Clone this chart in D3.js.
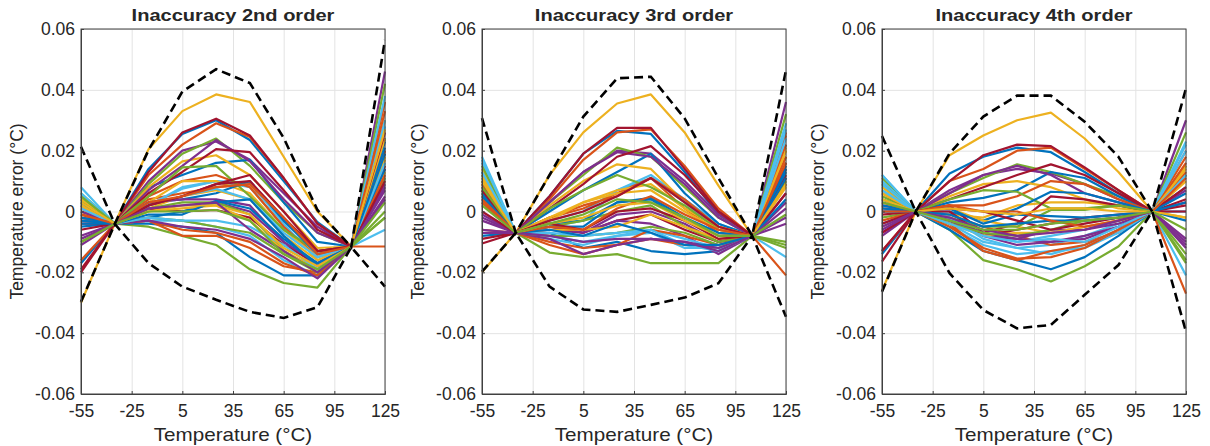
<!DOCTYPE html>
<html>
<head>
<meta charset="utf-8">
<script src="https://cdn.jsdelivr.net/npm/d3@7"></script>
<style>
  html, body { margin: 0; padding: 0; background: #fff; }
  text { font-family: "Liberation Sans", Arial, Helvetica, sans-serif; fill: #262626; }
</style>
</head>
<body>
<div id="app"></div>
<script>
const temps = [-55, -35, -15, 5, 25, 45, 65, 85, 105, 125]
const xTicks = [-55, -25, 5, 35, 65, 95, 125]
const xTickLabels = ['-55', '-25', '5', '35', '65', '95', '125']
const yTicks = [-0.06, -0.04, -0.02, 0, 0.02, 0.04, 0.06]
const yTickLabels = ['-0.06', '-0.04', '-0.02', '0', '0.02', '0.04', '0.06']
const titles = ['Inaccuracy 2nd order', 'Inaccuracy 3rd order', 'Inaccuracy 4th order']

// one row per sensor, values at temps (°C)
const err2nd = [
  [-0.017, -0.004, 0.014, 0.0255, 0.030, 0.0235, 0.010, -0.0035, -0.0115, 0.024],
  [-0.016, -0.004, 0.012, 0.022, 0.029, 0.0245, 0.011, -0.004, -0.0115, 0.036],
  [-0.030, -0.004, 0.0205, 0.033, 0.0385, 0.036, 0.018, 0.000, -0.0115, 0.030],
  [-0.011, -0.004, 0.010, 0.020, 0.023, 0.017, 0.006, -0.005, -0.0115, 0.046],
  [-0.010, -0.004, 0.009, 0.019, 0.024, 0.015, 0.003, -0.007, -0.0115, 0.042],
  [0.008, -0.004, 0.002, 0.0075, 0.010, 0.008, -0.005, -0.014, -0.0115, -0.006],
  [-0.019, -0.004, 0.013, 0.026, 0.0305, 0.025, 0.011, -0.004, -0.0115, 0.020],
  [-0.005, -0.004, 0.008, 0.012, 0.016, 0.017, 0.003, -0.010, -0.0115, 0.024],
  [-0.003, -0.004, 0.004, 0.006, 0.008, 0.009, -0.003, -0.013, -0.0115, -0.0115],
  [-0.001, -0.004, 0.008, 0.0165, 0.0185, 0.012, 0.000, -0.012, -0.0115, 0.017],
  [-0.002, -0.004, 0.007, 0.015, 0.0235, 0.0165, 0.004, -0.007, -0.0115, 0.008],
  [0.006, -0.004, -0.005, -0.008, -0.011, -0.019, -0.0235, -0.025, -0.0115, 0.000],
  [0.005, -0.004, 0.002, 0.008, 0.010, 0.0095, -0.004, -0.016, -0.0115, 0.028],
  [-0.020, -0.004, 0.006, 0.013, 0.0205, 0.0195, 0.007, -0.006, -0.0115, 0.014],
  [0.003, -0.004, -0.004, -0.005, -0.007, -0.015, -0.021, -0.021, -0.0115, 0.023],
  [-0.002, -0.004, 0.005, 0.010, 0.012, 0.008, -0.005, -0.015, -0.0115, 0.020],
  [0.000, -0.004, 0.003, 0.010, 0.010, 0.006, -0.006, -0.015, -0.0115, 0.013],
  [0.002, -0.004, 0.001, 0.000, 0.003, 0.000, -0.010, -0.018, -0.0115, 0.005],
  [0.004, -0.004, 0.005, 0.0145, 0.015, 0.005, -0.006, -0.013, -0.0115, 0.011],
  [0.006, -0.004, -0.003, -0.003, -0.005, -0.008, -0.016, -0.021, -0.0115, 0.038],
  [-0.004, -0.004, 0.001, 0.000, 0.0005, -0.002, -0.011, -0.017, -0.0115, 0.015],
  [-0.003, -0.004, 0.003, 0.004, 0.006, 0.010, -0.003, -0.014, -0.0115, 0.021],
  [0.001, -0.004, -0.003, -0.006, -0.007, -0.010, -0.017, -0.021, -0.0115, 0.019],
  [0.004, -0.004, 0.001, 0.005, 0.007, 0.004, -0.008, -0.016, -0.0115, 0.024],
  [-0.008, -0.004, 0.003, 0.004, 0.004, 0.002, -0.010, -0.017, -0.0115, 0.004],
  [0.005, -0.004, 0.001, 0.003, 0.003, -0.001, -0.013, -0.019, -0.0115, -0.002],
  [0.002, -0.004, 0.002, 0.005, 0.0075, 0.004, -0.007, -0.015, -0.0115, 0.030],
  [-0.001, -0.004, 0.002, 0.005, 0.009, 0.010, -0.002, -0.013, -0.0115, 0.026],
  [-0.002, -0.004, -0.002, 0.000, 0.003, 0.004, -0.008, -0.018, -0.0115, 0.014],
  [0.000, -0.004, -0.003, -0.008, -0.008, -0.012, -0.018, -0.020, -0.0115, 0.012],
  [0.002, -0.004, 0.000, 0.001, 0.002, -0.003, -0.013, -0.019, -0.0115, 0.018],
  [0.000, -0.004, -0.003, -0.005, -0.006, -0.009, -0.015, -0.022, -0.0115, 0.009],
  [0.003, -0.004, -0.002, -0.003, -0.005, -0.007, -0.014, -0.020, -0.0115, -0.002],
  [0.001, -0.004, -0.002, -0.003, -0.003, -0.005, -0.011, -0.019, -0.0115, 0.016],
  [-0.006, -0.004, 0.002, 0.005, 0.009, 0.012, 0.000, -0.013, -0.0115, 0.010],
  [-0.004, -0.004, -0.001, -0.001, 0.0035, 0.001, -0.009, -0.017, -0.0115, 0.019],
  [-0.001, -0.004, 0.003, 0.005, 0.008, 0.009, -0.002, -0.014, -0.0115, 0.033],
  [0.003, -0.004, 0.000, 0.002, 0.002, -0.001, -0.012, -0.018, -0.0115, 0.027],
  [-0.009, -0.004, 0.001, 0.002, 0.003, -0.006, -0.013, -0.020, -0.0115, 0.007],
  [-0.010, -0.004, 0.000, 0.000, 0.0005, -0.003, -0.014, -0.019, -0.0115, 0.003]
]
const upper2nd = [0.0213, -0.0041, 0.0202, 0.0394, 0.0468, 0.0422, 0.0242, 0.0005, -0.0117, 0.0564]
const lower2nd = [-0.0297, -0.0041, -0.0170, -0.0247, -0.0290, -0.0330, -0.0350, -0.0315, -0.0117, -0.0247]

const err3rd = [
  [0.013, -0.007, 0.005, 0.019, 0.0265, 0.0255, 0.013, -0.001, -0.008, 0.014],
  [0.010, -0.007, 0.004, 0.017, 0.026, 0.027, 0.015, 0.001, -0.008, 0.026],
  [-0.020, -0.007, 0.012, 0.026, 0.0355, 0.0385, 0.026, 0.0085, -0.008, 0.021],
  [-0.002, -0.007, 0.003, 0.013, 0.020, 0.019, 0.010, -0.001, -0.008, 0.036],
  [0.005, -0.007, 0.003, 0.012, 0.021, 0.018, 0.008, -0.002, -0.008, 0.032],
  [0.018, -0.007, -0.005, -0.003, 0.007, 0.012, 0.004, -0.004, -0.008, -0.015],
  [0.008, -0.007, 0.005, 0.019, 0.0275, 0.0275, 0.014, 0.000, -0.008, 0.009],
  [0.012, -0.007, 0.000, 0.007, 0.013, 0.019, 0.006, -0.004, -0.008, 0.015],
  [-0.006, -0.007, -0.002, 0.002, 0.005, 0.011, 0.001, -0.007, -0.008, -0.021],
  [0.009, -0.007, 0.002, 0.010, 0.0155, 0.014, 0.003, -0.005, -0.008, 0.018],
  [0.004, -0.007, 0.003, 0.013, 0.0195, 0.018, 0.009, -0.002, -0.008, 0.006],
  [0.006, -0.007, -0.0135, -0.015, -0.014, -0.017, -0.017, -0.017, -0.008, -0.011],
  [0.016, -0.007, -0.003, 0.000, 0.007, 0.011, 0.003, -0.006, -0.008, 0.029],
  [-0.0105, -0.007, 0.001, 0.009, 0.018, 0.0215, 0.012, 0.000, -0.008, 0.012],
  [-0.008, -0.007, -0.007, -0.012, -0.010, -0.013, -0.014, -0.013, -0.008, 0.014],
  [0.007, -0.007, -0.002, 0.001, 0.006, 0.011, 0.004, -0.005, -0.008, 0.025],
  [0.014, -0.007, -0.003, 0.003, 0.007, 0.009, 0.001, -0.005, -0.008, 0.020],
  [-0.003, -0.007, -0.006, -0.007, -0.001, 0.000, -0.004, -0.010, -0.008, 0.003],
  [0.003, -0.007, 0.001, 0.007, 0.012, 0.008, 0.002, -0.006, -0.008, 0.010],
  [0.011, -0.007, -0.009, -0.011, -0.008, -0.007, -0.012, -0.012, -0.008, 0.022],
  [-0.009, -0.007, -0.005, -0.007, -0.003, -0.001, -0.006, -0.010, -0.008, 0.016],
  [0.006, -0.007, -0.004, -0.003, 0.003, 0.004, -0.003, -0.008, -0.008, 0.013],
  [0.009, -0.007, -0.010, -0.012, -0.011, -0.009, -0.011, -0.012, -0.008, 0.018],
  [0.012, -0.007, -0.002, 0.003, 0.006, 0.007, 0.000, -0.006, -0.008, 0.008],
  [-0.001, -0.007, -0.005, -0.007, -0.003, -0.004, -0.008, -0.014, -0.008, -0.004],
  [0.015, -0.007, -0.005, -0.003, 0.000, 0.002, -0.005, -0.010, -0.008, -0.010],
  [0.017, -0.007, -0.008, -0.010, -0.008, -0.006, -0.009, -0.012, -0.008, 0.027],
  [0.007, -0.007, -0.003, 0.000, 0.005, 0.011, 0.003, -0.005, -0.008, 0.011],
  [0.010, -0.007, -0.005, -0.005, 0.003, 0.0045, -0.002, -0.007, -0.008, 0.011],
  [0.003, -0.007, -0.011, -0.014, -0.011, -0.006, -0.008, -0.011, -0.008, 0.022],
  [0.011, -0.007, -0.006, -0.006, -0.005, -0.001, -0.005, -0.009, -0.008, 0.020],
  [-0.007, -0.007, -0.009, -0.014, -0.011, -0.009, -0.010, -0.012, -0.008, -0.002],
  [0.008, -0.007, -0.008, -0.008, -0.007, -0.005, -0.007, -0.011, -0.008, -0.012],
  [0.013, -0.007, -0.007, -0.008, -0.007, -0.006, -0.011, -0.013, -0.008, 0.024],
  [0.000, -0.007, -0.004, -0.006, 0.000, 0.001, -0.003, -0.009, -0.008, 0.006],
  [0.005, -0.007, -0.006, -0.008, -0.004, -0.007, -0.011, -0.011, -0.008, 0.004],
  [0.004, -0.007, -0.005, -0.006, 0.001, 0.005, -0.001, -0.006, -0.008, 0.016],
  [0.010, -0.007, -0.004, -0.002, 0.002, 0.003, -0.003, -0.008, -0.008, 0.009],
  [-0.006, -0.007, -0.008, -0.010, -0.009, -0.009, -0.010, -0.013, -0.008, 0.001],
  [0.002, -0.007, -0.004, -0.001, 0.004, 0.003, -0.002, -0.008, -0.008, -0.001]
]
const upper3rd = [0.0307, -0.0070, 0.0120, 0.0312, 0.0438, 0.0443, 0.0306, 0.0110, -0.0080, 0.0465]
const lower3rd = [-0.0198, -0.0070, -0.0247, -0.0322, -0.0330, -0.0307, -0.0283, -0.0236, -0.0080, -0.0346]

const err4th = [
  [-0.014, 0, 0.0125, 0.018, 0.021, 0.0195, 0.013, 0.006, 0, 0.008],
  [-0.013, 0, 0.010, 0.014, 0.020, 0.021, 0.014, 0.007, 0, 0.020],
  [-0.026, 0, 0.0185, 0.025, 0.030, 0.0325, 0.024, 0.013, 0, 0.015],
  [-0.008, 0, 0.007, 0.012, 0.014, 0.0125, 0.009, 0.004, 0, 0.030],
  [-0.002, 0, 0.006, 0.011, 0.0155, 0.013, 0.009, 0.005, 0, 0.026],
  [0.012, 0, -0.004, -0.010, -0.012, -0.011, -0.008, -0.004, 0, -0.021],
  [-0.0165, 0, 0.010, 0.0185, 0.022, 0.0215, 0.0145, 0.007, 0, 0.004],
  [-0.004, 0, 0.003, 0.0045, 0.007, 0.013, 0.011, 0.005, 0, 0.012],
  [0.001, 0, -0.001, -0.005, -0.008, -0.011, -0.010, -0.007, 0, -0.027],
  [-0.005, 0, 0.005, 0.009, 0.010, 0.008, 0.004, 0.001, 0, 0.015],
  [-0.007, 0, 0.006, 0.012, 0.015, 0.012, 0.006, 0.003, 0, 0.007],
  [0.011, 0, -0.006, -0.016, -0.019, -0.023, -0.018, -0.0115, 0, -0.017],
  [0.010, 0, -0.003, -0.007, -0.010, -0.008, -0.006, -0.003, 0, 0.023],
  [-0.013, 0, 0.004, 0.008, 0.012, 0.0155, 0.012, 0.006, 0, 0.003],
  [0.004, 0, -0.006, -0.013, -0.016, -0.019, -0.015, -0.008, 0, 0.000],
  [-0.003, 0, 0.002, 0.002, 0.005, 0.010, 0.009, 0.004, 0, 0.018],
  [0.008, 0, -0.001, -0.002, 0.002, 0.003, 0.003, 0.002, 0, -0.002],
  [0.002, 0, -0.002, -0.008, -0.011, -0.010, -0.009, -0.005, 0, -0.009],
  [0.005, 0, 0.004, 0.007, 0.0065, 0.001, 0.001, 0.002, 0, 0.012],
  [0.012, 0, -0.005, -0.011, -0.014, -0.013, -0.012, -0.007, 0, 0.022],
  [-0.007, 0, 0.002, -0.007, -0.004, 0.005, 0.004, 0.002, 0, 0.002],
  [0.001, 0, 0.000, -0.003, 0.001, 0.0065, 0.006, 0.003, 0, -0.003],
  [0.006, 0, -0.005, -0.012, -0.0155, -0.015, -0.012, -0.006, 0, 0.013],
  [0.007, 0, 0.001, -0.003, -0.005, -0.007, -0.005, -0.003, 0, 0.010],
  [-0.006, 0, -0.003, -0.008, -0.009, -0.006, -0.006, -0.004, 0, -0.012],
  [0.009, 0, -0.002, -0.005, -0.005, 0.0005, 0.0005, 0.002, 0, -0.016],
  [0.009, 0, -0.002, -0.009, -0.012, -0.014, -0.011, -0.006, 0, 0.020],
  [-0.001, 0, 0.000, -0.008, -0.006, -0.004, -0.002, -0.001, 0, 0.008],
  [0.002, 0, 0.001, -0.004, -0.001, -0.0015, -0.002, -0.001, 0, 0.006],
  [0.003, 0, -0.004, -0.013, -0.016, -0.013, -0.011, -0.006, 0, 0.016],
  [0.006, 0, -0.004, -0.008, -0.007, -0.007, -0.005, -0.003, 0, 0.014],
  [0.000, 0, -0.003, -0.007, -0.009, -0.010, -0.008, -0.005, 0, -0.010],
  [0.004, 0, -0.004, -0.007, -0.008, -0.006, -0.003, -0.002, 0, -0.014],
  [0.007, 0, -0.004, -0.008, -0.010, -0.009, -0.010, -0.005, 0, 0.012],
  [-0.004, 0, 0.001, 0.000, -0.003, -0.006, -0.004, -0.002, 0, 0.000],
  [0.000, 0, -0.001, -0.005, -0.004, -0.003, -0.003, -0.002, 0, 0.003],
  [0.000, 0, 0.002, 0.000, 0.000, -0.003, -0.005, -0.003, 0, 0.011],
  [0.004, 0, 0.001, 0.000, -0.001, 0.001, 0.001, 0.000, 0, -0.002],
  [-0.005, 0, -0.002, -0.006, -0.008, -0.007, -0.006, -0.003, 0, -0.011],
  [0.003, 0, -0.003, -0.006, -0.006, -0.004, -0.003, -0.002, 0, -0.006]
]
const upper4th = [0.0248, 0, 0.0191, 0.0312, 0.0381, 0.0381, 0.0295, 0.0180, 0, 0.0405]
const lower4th = [-0.0264, 0, -0.0203, -0.0324, -0.0384, -0.0373, -0.0274, -0.0176, 0, -0.0395]

// matlab default line colours
const colors = ['#0072BD', '#D95319', '#EDB120', '#7E2F8E', '#77AC30', '#4DBEEE', '#A2142F']

const panels = [
  {left: 81, right: 385, lines: err2nd, upper: upper2nd, lower: lower2nd},
  {left: 482, right: 786, lines: err3rd, upper: upper3rd, lower: lower3rd},
  {left: 882, right: 1186, lines: err4th, upper: upper4th, lower: lower4th}
]
const plotTop = 29
const plotBottom = 394

const svg = d3.select('#app').append('svg')
    .attr('width', 1210)
    .attr('height', 446)

panels.forEach((p, k) => {
  const x = d3.scaleLinear().domain([-55, 125]).range([p.left, p.right])
  const y = d3.scaleLinear().domain([-0.06, 0.06]).range([plotBottom, plotTop])
  const w = p.right - p.left
  const h = plotBottom - plotTop
  const g = svg.append('g')

  // grid
  g.append('g')
    .attr('transform', `translate(0,${plotBottom})`)
    .call(d3.axisBottom(x).tickValues(xTicks).tickSize(-h).tickFormat(''))
    .call(s => s.select('.domain').remove())
    .selectAll('line').attr('stroke', '#e3e3e3')
  g.append('g')
    .attr('transform', `translate(${p.left},0)`)
    .call(d3.axisLeft(y).tickValues(yTicks).tickSize(-w).tickFormat(''))
    .call(s => s.select('.domain').remove())
    .selectAll('line').attr('stroke', '#e3e3e3')

  const line = d3.line()
    .x((d, i) => x(temps[i]))
    .y(d => y(d))

  g.selectAll('path.sensor')
    .data(p.lines)
    .join('path')
    .attr('class', 'sensor')
    .attr('d', line)
    .attr('fill', 'none')
    .attr('stroke', (d, i) => colors[i % colors.length])
    .attr('stroke-width', 2.2)
    .attr('stroke-linejoin', 'round')

  g.selectAll('path.bound')
    .data([p.upper, p.lower])
    .join('path')
    .attr('class', 'bound')
    .attr('d', line)
    .attr('fill', 'none')
    .attr('stroke', '#000')
    .attr('stroke-width', 2.6)
    .attr('stroke-dasharray', '9,5')

  // axes, ticks pointing inward
  const xAxis = g.append('g')
    .attr('transform', `translate(0,${plotBottom})`)
    .call(d3.axisBottom(x).tickValues(xTicks).tickSize(-3).tickPadding(10)
      .tickFormat((d, i) => xTickLabels[i]))
  const yAxis = g.append('g')
    .attr('transform', `translate(${p.left},0)`)
    .call(d3.axisLeft(y).tickValues(yTicks).tickSize(-3).tickPadding(6)
      .tickFormat((d, i) => yTickLabels[i]))
  ;[xAxis, yAxis].forEach(a => {
    a.selectAll('text').style('font-size', '17.5px').attr('fill', '#262626')
    a.selectAll('line').attr('stroke', '#404040')
    a.select('.domain').attr('stroke', '#404040')
  })
  xAxis.selectAll('text').attr('dy', '0.72em')

  g.append('rect')
    .attr('x', p.left).attr('y', plotTop)
    .attr('width', w).attr('height', h)
    .attr('fill', 'none')
    .attr('stroke', '#404040')
    .attr('stroke-width', 1)

  const cx = (p.left + p.right) / 2
  g.append('text')
    .attr('transform', `translate(${cx},21) scale(1.18,1)`)
    .attr('text-anchor', 'middle')
    .style('font-size', '17px')
    .style('font-weight', 'bold')
    .attr('fill', '#000')
    .text(titles[k])

  g.append('text')
    .attr('transform', `translate(${cx},441) scale(1.18,1)`)
    .attr('text-anchor', 'middle')
    .style('font-size', '17.5px')
    .text('Temperature (°C)')

  g.append('text')
    .attr('transform', `translate(${p.left - 58},${(plotTop + plotBottom) / 2}) rotate(-90)`)
    .attr('text-anchor', 'middle')
    .style('font-size', '17.5px')
    .text('Temperature error (°C)')
})
</script>
</body>
</html>
